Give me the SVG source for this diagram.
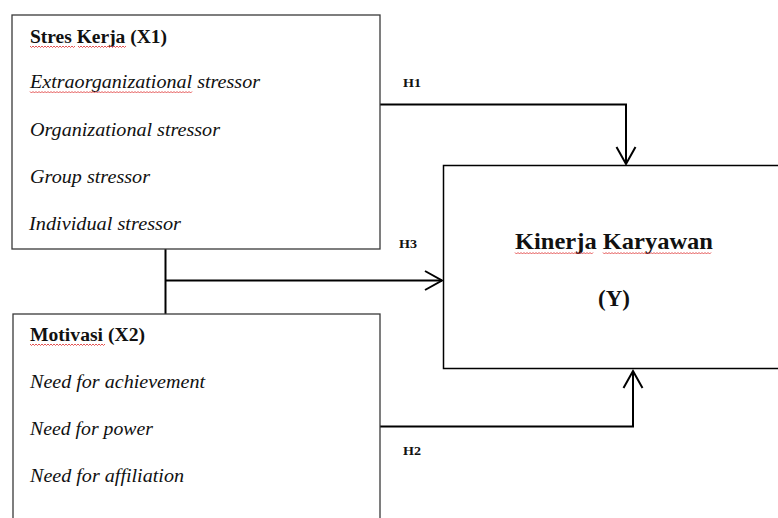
<svg xmlns="http://www.w3.org/2000/svg" width="778" height="518" viewBox="0 0 778 518">
<style>
.box{fill:#fff;stroke:#3a3a3a;stroke-width:1.3}
.boxy{fill:#fff;stroke:#000;stroke-width:1.5}
.t{font-family:"Liberation Serif","Times New Roman",serif;fill:#111}
.b{font-weight:bold;font-size:18px}
.i{font-style:italic;font-size:18px}
.h{font-weight:bold;font-size:12.5px}
.y{font-weight:bold;font-size:24px}
.c{fill:none;stroke:#000;stroke-width:2}
.sq{fill:none;stroke:#e04040;stroke-width:0.9}
</style>
<defs>
<marker id="arr" markerUnits="userSpaceOnUse" markerWidth="24" markerHeight="24" viewBox="-20 -12 24 24" refX="0" refY="0" orient="auto">
<path d="M-17,-9.5 L0,0 L-17,9.5" fill="none" stroke="#000" stroke-width="2"/>
</marker>
</defs>
<rect width="778" height="518" fill="#fff"/>
<g id="connectors">
<path class="c" d="M380,104.5 H626 V164" marker-end="url(#arr)"/>
<path class="c" d="M165.5,249 V314"/>
<path class="c" d="M165.5,280.5 H442" marker-end="url(#arr)"/>
<path class="c" d="M380,426.5 H633 V371" marker-end="url(#arr)"/>
<text class="t h" x="403" y="86.5" textLength="18" lengthAdjust="spacingAndGlyphs">H1</text>
<text class="t h" x="399" y="248" textLength="18" lengthAdjust="spacingAndGlyphs">H3</text>
<text class="t h" x="403" y="455" textLength="18" lengthAdjust="spacingAndGlyphs">H2</text>
</g>
<g id="x1">
<rect class="box" x="12" y="15" width="368" height="234"/>
<text class="t b" x="30" y="42.5" textLength="137" lengthAdjust="spacingAndGlyphs">Stres Kerja (X1)</text>
<text class="t i" x="30" y="88" textLength="230" lengthAdjust="spacingAndGlyphs">Extraorganizational stressor</text>
<text class="t i" x="30" y="136" textLength="190" lengthAdjust="spacingAndGlyphs">Organizational stressor</text>
<text class="t i" x="30" y="183" textLength="120" lengthAdjust="spacingAndGlyphs">Group stressor</text>
<text class="t i" x="29" y="230" textLength="152" lengthAdjust="spacingAndGlyphs">Individual stressor</text>
</g>
<g id="x2">
<rect class="box" x="13" y="314" width="367" height="220"/>
<text class="t b" x="30" y="340.5" textLength="115" lengthAdjust="spacingAndGlyphs">Motivasi (X2)</text>
<text class="t i" x="30" y="387.5" textLength="175" lengthAdjust="spacingAndGlyphs">Need for achievement</text>
<text class="t i" x="30" y="435" textLength="123" lengthAdjust="spacingAndGlyphs">Need for power</text>
<text class="t i" x="30" y="481.5" textLength="154" lengthAdjust="spacingAndGlyphs">Need for affiliation</text>
</g>
<g id="y">
<rect class="boxy" x="443.5" y="165.5" width="340" height="203"/>
<text class="t y" x="515" y="249" textLength="198" lengthAdjust="spacingAndGlyphs">Kinerja Karyawan</text>
<text class="t y" x="598" y="306" textLength="32" lengthAdjust="spacingAndGlyphs">(Y)</text>
</g>
<g id="spellcheck">
<path class="sq" d="M30,46 l1.5,1.5 l1.5,-1.5 l1.5,1.5 l1.5,-1.5 l1.5,1.5 l1.5,-1.5 l1.5,1.5 l1.5,-1.5 l1.5,1.5 l1.5,-1.5 l1.5,1.5 l1.5,-1.5 l1.5,1.5 l1.5,-1.5 l1.5,1.5 l1.5,-1.5 l1.5,1.5 l1.5,-1.5 l1.5,1.5 l1.5,-1.5 l1.5,1.5 l1.5,-1.5 l1.5,1.5 l1.5,-1.5 l1.5,1.5 l1.5,-1.5 l1.5,1.5 l1.5,-1.5 l1.5,1.5 l1.5,-1.5"/>
<path class="sq" d="M78,46 l1.5,1.5 l1.5,-1.5 l1.5,1.5 l1.5,-1.5 l1.5,1.5 l1.5,-1.5 l1.5,1.5 l1.5,-1.5 l1.5,1.5 l1.5,-1.5 l1.5,1.5 l1.5,-1.5 l1.5,1.5 l1.5,-1.5 l1.5,1.5 l1.5,-1.5 l1.5,1.5 l1.5,-1.5 l1.5,1.5 l1.5,-1.5 l1.5,1.5 l1.5,-1.5 l1.5,1.5 l1.5,-1.5 l1.5,1.5 l1.5,-1.5 l1.5,1.5 l1.5,-1.5 l1.5,1.5 l1.5,-1.5 l1.5,1.5 l1.5,-1.5"/>
<path class="sq" d="M30,91.5 l1.5,1.5 l1.5,-1.5 l1.5,1.5 l1.5,-1.5 l1.5,1.5 l1.5,-1.5 l1.5,1.5 l1.5,-1.5 l1.5,1.5 l1.5,-1.5 l1.5,1.5 l1.5,-1.5 l1.5,1.5 l1.5,-1.5 l1.5,1.5 l1.5,-1.5 l1.5,1.5 l1.5,-1.5 l1.5,1.5 l1.5,-1.5 l1.5,1.5 l1.5,-1.5 l1.5,1.5 l1.5,-1.5 l1.5,1.5 l1.5,-1.5 l1.5,1.5 l1.5,-1.5 l1.5,1.5 l1.5,-1.5 l1.5,1.5 l1.5,-1.5 l1.5,1.5 l1.5,-1.5 l1.5,1.5 l1.5,-1.5 l1.5,1.5 l1.5,-1.5 l1.5,1.5 l1.5,-1.5 l1.5,1.5 l1.5,-1.5 l1.5,1.5 l1.5,-1.5 l1.5,1.5 l1.5,-1.5 l1.5,1.5 l1.5,-1.5 l1.5,1.5 l1.5,-1.5 l1.5,1.5 l1.5,-1.5 l1.5,1.5 l1.5,-1.5 l1.5,1.5 l1.5,-1.5 l1.5,1.5 l1.5,-1.5 l1.5,1.5 l1.5,-1.5 l1.5,1.5 l1.5,-1.5 l1.5,1.5 l1.5,-1.5 l1.5,1.5 l1.5,-1.5 l1.5,1.5 l1.5,-1.5 l1.5,1.5 l1.5,-1.5 l1.5,1.5 l1.5,-1.5 l1.5,1.5 l1.5,-1.5 l1.5,1.5 l1.5,-1.5 l1.5,1.5 l1.5,-1.5 l1.5,1.5 l1.5,-1.5 l1.5,1.5 l1.5,-1.5 l1.5,1.5 l1.5,-1.5 l1.5,1.5 l1.5,-1.5 l1.5,1.5 l1.5,-1.5 l1.5,1.5 l1.5,-1.5 l1.5,1.5 l1.5,-1.5 l1.5,1.5 l1.5,-1.5 l1.5,1.5 l1.5,-1.5 l1.5,1.5 l1.5,-1.5 l1.5,1.5 l1.5,-1.5 l1.5,1.5 l1.5,-1.5 l1.5,1.5 l1.5,-1.5 l1.5,1.5 l1.5,-1.5 l1.5,1.5 l1.5,-1.5"/>
<path class="sq" d="M30,344 l1.5,1.5 l1.5,-1.5 l1.5,1.5 l1.5,-1.5 l1.5,1.5 l1.5,-1.5 l1.5,1.5 l1.5,-1.5 l1.5,1.5 l1.5,-1.5 l1.5,1.5 l1.5,-1.5 l1.5,1.5 l1.5,-1.5 l1.5,1.5 l1.5,-1.5 l1.5,1.5 l1.5,-1.5 l1.5,1.5 l1.5,-1.5 l1.5,1.5 l1.5,-1.5 l1.5,1.5 l1.5,-1.5 l1.5,1.5 l1.5,-1.5 l1.5,1.5 l1.5,-1.5 l1.5,1.5 l1.5,-1.5 l1.5,1.5 l1.5,-1.5 l1.5,1.5 l1.5,-1.5 l1.5,1.5 l1.5,-1.5 l1.5,1.5 l1.5,-1.5 l1.5,1.5 l1.5,-1.5 l1.5,1.5 l1.5,-1.5 l1.5,1.5 l1.5,-1.5 l1.5,1.5 l1.5,-1.5 l1.5,1.5 l1.5,-1.5 l1.5,1.5 l1.5,-1.5"/>
<path class="sq" d="M515,252.5 l1.5,1.5 l1.5,-1.5 l1.5,1.5 l1.5,-1.5 l1.5,1.5 l1.5,-1.5 l1.5,1.5 l1.5,-1.5 l1.5,1.5 l1.5,-1.5 l1.5,1.5 l1.5,-1.5 l1.5,1.5 l1.5,-1.5 l1.5,1.5 l1.5,-1.5 l1.5,1.5 l1.5,-1.5 l1.5,1.5 l1.5,-1.5 l1.5,1.5 l1.5,-1.5 l1.5,1.5 l1.5,-1.5 l1.5,1.5 l1.5,-1.5 l1.5,1.5 l1.5,-1.5 l1.5,1.5 l1.5,-1.5 l1.5,1.5 l1.5,-1.5 l1.5,1.5 l1.5,-1.5 l1.5,1.5 l1.5,-1.5 l1.5,1.5 l1.5,-1.5 l1.5,1.5 l1.5,-1.5 l1.5,1.5 l1.5,-1.5 l1.5,1.5 l1.5,-1.5 l1.5,1.5 l1.5,-1.5 l1.5,1.5 l1.5,-1.5 l1.5,1.5 l1.5,-1.5 l1.5,1.5 l1.5,-1.5"/>
<path class="sq" d="M603,252.5 l1.5,1.5 l1.5,-1.5 l1.5,1.5 l1.5,-1.5 l1.5,1.5 l1.5,-1.5 l1.5,1.5 l1.5,-1.5 l1.5,1.5 l1.5,-1.5 l1.5,1.5 l1.5,-1.5 l1.5,1.5 l1.5,-1.5 l1.5,1.5 l1.5,-1.5 l1.5,1.5 l1.5,-1.5 l1.5,1.5 l1.5,-1.5 l1.5,1.5 l1.5,-1.5 l1.5,1.5 l1.5,-1.5 l1.5,1.5 l1.5,-1.5 l1.5,1.5 l1.5,-1.5 l1.5,1.5 l1.5,-1.5 l1.5,1.5 l1.5,-1.5 l1.5,1.5 l1.5,-1.5 l1.5,1.5 l1.5,-1.5 l1.5,1.5 l1.5,-1.5 l1.5,1.5 l1.5,-1.5 l1.5,1.5 l1.5,-1.5 l1.5,1.5 l1.5,-1.5 l1.5,1.5 l1.5,-1.5 l1.5,1.5 l1.5,-1.5 l1.5,1.5 l1.5,-1.5 l1.5,1.5 l1.5,-1.5 l1.5,1.5 l1.5,-1.5 l1.5,1.5 l1.5,-1.5 l1.5,1.5 l1.5,-1.5 l1.5,1.5 l1.5,-1.5 l1.5,1.5 l1.5,-1.5 l1.5,1.5 l1.5,-1.5 l1.5,1.5 l1.5,-1.5 l1.5,1.5 l1.5,-1.5 l1.5,1.5 l1.5,-1.5 l1.5,1.5 l1.5,-1.5"/>
</g>
</svg>
